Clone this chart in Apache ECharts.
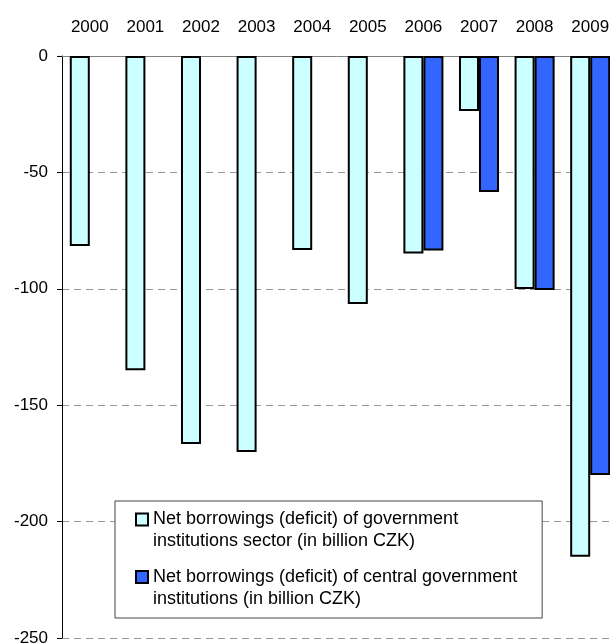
<!DOCTYPE html>
<html>
<head>
<meta charset="utf-8">
<script src="https://cdn.jsdelivr.net/npm/echarts@6/dist/echarts.min.js"></script>
<style>
  html, body { margin: 0; padding: 0; background: #fff; }
  #chart { width: 610px; height: 644px; }
</style>
</head>
<body>
<div id="chart"></div>
<script>
const years = ["2000", "2001", "2002", "2003", "2004", "2005", "2006", "2007", "2008", "2009"];

// general government sector (light bars)
const govSector = [-81.6, -135, -166.7, -170.1, -83.3, -106.5, -84.8, -23.6, -100.1, -215.1];

// central government institutions (dark bars), only from 2006
const centralGov = [null, null, null, null, null, null, -83.6, -58.4, -100.5, -180];

const seriesNames = [
  "Net borrowings (deficit) of government\ninstitutions sector (in billion CZK)",
  "Net borrowings (deficit) of central government\ninstitutions (in billion CZK)",
];

const font = "Liberation Sans, Arial, sans-serif";

echarts.init(document.querySelector("#chart")).setOption({
  animation: false,
  grid: {
    left: 62,
    top: 56,
    width: 556,
    height: 582,
    containLabel: false,
    outerBoundsMode: "none",
  },
  legend: {
    orient: "vertical",
    left: 115,
    top: 501,
    padding: [-14.5, 25, 8, 20],
    itemGap: -8.5,
    itemWidth: 12,
    itemHeight: 12,
    icon: "rect",
    backgroundColor: "#fff",
    borderColor: "#444",
    borderWidth: 1,
    itemStyle: {
      borderColor: "#000",
      borderWidth: 2,
    },
    // empty first line keeps the icon level with the first text line
    formatter: (name) => "\n" + name,
    textStyle: {
      fontFamily: font,
      fontSize: 18,
      lineHeight: 22,
      color: "#000",
    },
    data: seriesNames,
  },
  xAxis: {
    type: "category",
    position: "top",
    data: years,
    axisLine: { lineStyle: { color: "#808080" } },
    axisTick: { inside: true, length: 5, lineStyle: { color: "#808080" } },
    axisLabel: {
      fontFamily: font,
      fontSize: 17,
      color: "#000",
      margin: 20,
    },
  },
  yAxis: {
    type: "value",
    min: -250,
    max: 0,
    interval: 50,
    axisLine: { show: true, lineStyle: { color: "#000" } },
    axisTick: { show: true, length: 5, lineStyle: { color: "#000" } },
    axisLabel: {
      fontFamily: font,
      fontSize: 17,
      color: "#000",
      margin: 14,
    },
    splitLine: {
      lineStyle: { color: "#999", type: [7, 5] },
    },
  },
  series: [
    {
      name: seriesNames[0],
      type: "bar",
      data: govSector,
      barGap: "0%",
      barCategoryGap: "28%",
      itemStyle: { color: "#ccffff", borderColor: "#000", borderWidth: 2 },
      emphasis: { disabled: true },
    },
    {
      name: seriesNames[1],
      type: "bar",
      data: centralGov,
      itemStyle: { color: "#3366ff", borderColor: "#000", borderWidth: 2 },
      emphasis: { disabled: true },
    },
  ],
});
</script>
</body>
</html>
